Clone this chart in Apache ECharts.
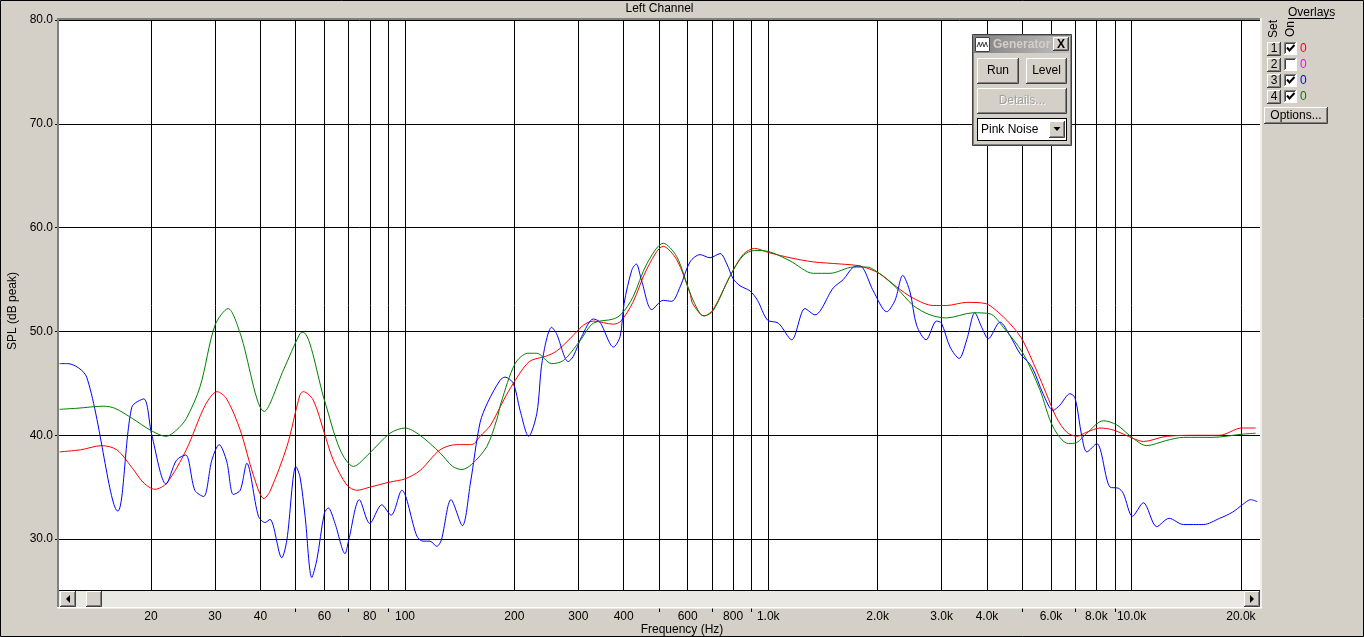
<!DOCTYPE html>
<html><head><meta charset="utf-8">
<script src="https://cdn.jsdelivr.net/npm/echarts@6/dist/echarts.min.js"></script>
<style>html,body{margin:0;padding:0;background:#D4D0C8;overflow:hidden}#c{width:1364px;height:637px}</style>
</head><body><div id="c"></div>
<script>
// ---- data ----
const gridFreqs = [20,30,40,50,60,70,80,90,100,200,300,400,500,600,700,800,900,1000,2000,3000,4000,5000,6000,7000,8000,9000,10000,20000];
const labelFreqs = [20,30,40,60,80,100,200,300,400,600,800,1000,2000,3000,4000,6000,8000,10000,20000];
const minorTickFreqs = [50,70,90,500,700,900,5000,7000,9000];
const yTicks = [30,40,50,60,70,80];

const redFreq = [11.2,12.8,14.6,16.1,17.8,19.1,20.5,22.1,25.0,28.2,30.4,32.3,35.2,38.3,40.9,42.5,47.3,51.4,52.5,55.9,60.0,63.5,69.2,73.7,80.0,91.0,100,110,124.9,138.8,150.2,155.1,160.9,171.5,187,198.7,219.9,243.8,261.2,284.6,309.8,330,375,393,424,463,514,560,609,619,666,705,784,852,917,1002,1148,1330,1576,1788,2020,2254,2507,2846,3094,3518,3950,4344,4722,5025,5483,5826,6211,6630,7066,7530,8189,8914,10100,10780,12480,15420,17480,20100,21960];
const redDb = [38.4,38.6,39.0,38.6,36.8,35.4,34.8,35.4,38.6,42.9,44.2,43.5,40.5,36.1,33.9,34.6,38.9,43.9,44.2,43.4,40.2,37.6,35.2,34.7,35.0,35.5,35.8,36.6,38.6,39.1,39.1,39.2,39.9,40.9,43.4,45.0,47.1,47.6,48.1,49.3,50.6,51.0,50.7,51.0,52.8,56.0,58.2,56.9,53.7,52.7,51.5,52.1,55.3,57.4,58.0,57.6,57.1,56.7,56.5,56.3,55.6,54.3,53.2,52.5,52.5,52.8,52.7,51.7,50.4,49.1,46.2,44.0,41.7,40.3,39.9,40.3,40.7,40.5,39.7,39.4,39.9,40.0,40.0,40.7,40.7];

const blueFreq = [11.2,11.8,13.3,16.2,17.7,19.1,20.1,22.0,23.5,24.9,26.4,27.9,29.4,30.8,32.3,33.7,35.2,36.7,39.5,41.2,42.5,45.8,47.3,50.1,51.4,53.1,55.4,57.2,60.0,61.5,64.2,68.4,70.0,74.9,80.0,86.3,91.6,98.0,107.8,112.2,117.2,122.3,125.9,133.9,143.9,151.4,160.9,169.1,182.7,188.4,198.7,207.4,219.0,230.6,238.8,253.4,261.2,281.5,290.6,306.5,330,344,375,391,401,421,433,448,478,514,542,572,609,649,691,737,769,800,836,891,934,995,1066,1160,1262,1344,1510,1609,1714,1788,1946,2118,2233,2345,2456,2560,2719,2906,2997,3165,3353,3518,3703,3868,4033,4344,4626,4926,5313,5706,6080,6347,6767,6990,7295,7530,8020,8730,9196,9490,10060,10780,11730,12690,13890,15750,17480,18980,20180,21280,22190];
const blueDb = [46.9,46.9,45.6,32.7,42.7,43.5,40.0,35.3,37.6,38.1,34.7,34.1,37.6,39.1,37.5,34.3,34.7,37.3,32.2,31.6,31.9,28.2,29.9,37.0,36.0,32.2,26.3,28.0,32.5,33.0,31.5,28.6,29.9,33.8,31.5,33.3,32.3,34.7,30.3,29.8,29.8,29.3,29.9,33.8,31.3,35.4,41.2,43.2,45.3,45.6,45.0,42.4,39.9,42.1,47.2,50.4,49.8,47.1,47.6,49.5,51.2,50.9,48.5,49.5,52.7,55.9,56.5,54.9,52.1,53.0,52.9,54.3,56.7,57.4,57.1,57.5,56.5,55.1,54.4,53.9,53.0,51.1,50.8,49.2,52.2,51.6,54.2,55.0,56.2,56.3,53.9,51.9,53.0,55.4,53.8,50.6,49.2,51.0,50.8,48.5,47.4,49.2,51.8,50.4,49.3,50.9,49.6,47.9,46.6,44.0,42.4,42.9,44.0,43.6,39.9,38.4,39.2,35.0,34.9,34.4,32.2,33.5,31.2,32.0,31.4,31.4,32.0,32.6,33.3,33.8,33.6];

const greenFreq = [11.2,12.5,14.8,15.9,17.8,19.9,22.0,23.5,25.0,27.3,30.0,32.6,35.2,41.0,46.3,51.4,52.5,60.0,66.3,72.1,80,91,100,110,124.9,135.3,143.5,152.6,167.9,178.9,184.1,201,217.8,230.6,253.4,272.9,303.2,330,375,395,424,463,514,560,609,649,666,705,784,852,917,1002,1148,1330,1479,1714,1868,2020,2254,2507,2787,3094,3665,4076,4435,5025,5590,6080,6697,7066,7530,8363,9104,10100,11000,12480,13890,16760,20100,21960];
const greenDb = [42.5,42.6,42.8,42.6,41.6,40.5,39.9,40.5,41.6,44.7,50.6,52.2,49.8,42.3,46.3,49.8,49.9,43.4,38.6,37.0,38.3,40.2,40.7,40.0,38.3,37.0,36.7,37.2,38.9,41.5,43.2,46.9,47.9,47.9,46.9,47.2,49.1,50.8,51.2,51.7,53.3,56.5,58.5,57.2,53.7,51.7,51.5,52.0,55.3,57.3,57.8,57.7,56.8,55.6,55.6,56.2,56.2,55.6,54.2,52.5,51.6,51.3,51.8,51.7,50.4,47.9,44.4,40.8,39.2,39.3,40.2,41.4,41.0,39.7,39.0,39.5,39.8,39.8,40.1,40.2];

const overlaySets = ['1','2','3','4'];
const overlayOn = [true,false,true,true];
const overlayColors = ['#FF0000','#FF00FF','#0000FF','#008000'];

// ---- helpers ----
const FONT = '12px "Liberation Sans", Arial, sans-serif';
const zip = (a,b) => a.map((v,i)=>[v,b[i]]);
const fmtFreq = v => v >= 1000 ? (v/1000).toFixed(1)+'k' : String(Math.round(v));
const Z = 100;
function txt(text, x, y, opt) {
  opt = opt || {};
  return {type:'text', z:Z+5, x:x, y:y, rotation: opt.rot || 0,
    style:{text:text, x:0, y:0, fill: opt.fill || '#000', font: opt.font || FONT,
      align: opt.align || 'left', verticalAlign:'middle', textAlign: opt.align || 'left', textVerticalAlign:'middle'}};
}
function rect(x,y,w,h,fill,z){ return {type:'rect', z:(z||Z), shape:{x:x,y:y,width:w,height:h}, style:{fill:fill}}; }
function pl(points, stroke, lw, z){ return {type:'polyline', z:(z||Z+1), shape:{points:points}, style:{stroke:stroke, lineWidth:lw||1, fill:null}}; }
function raised(x,y,w,h){
  return [rect(x,y,w,h,'#D4D0C8',Z+1),
    pl([[x+0.5,y+h-1],[x+0.5,y+0.5],[x+w-1,y+0.5]],'#FFFFFF',1,Z+2),
    pl([[x,y+h-0.5],[x+w-0.5,y+h-0.5],[x+w-0.5,y]],'#404040',1,Z+2),
    pl([[x+1,y+h-1.5],[x+w-1.5,y+h-1.5],[x+w-1.5,y+1]],'#808080',1,Z+2)];
}
function sunken(x,y,w,h,fill){
  return [rect(x,y,w,h,fill||'#FFFFFF',Z+1),
    pl([[x+0.5,y+h-1],[x+0.5,y+0.5],[x+w-1,y+0.5]],'#808080',1,Z+2),
    pl([[x,y+h-0.5],[x+w-0.5,y+h-0.5],[x+w-0.5,y]],'#FFFFFF',1,Z+2),
    pl([[x+1.5,y+h-2],[x+1.5,y+1.5],[x+w-2,y+1.5]],'#404040',1,Z+2)];
}
function tri(points){ return {type:'polygon', z:Z+4, shape:{points:points}, style:{fill:'#000'}}; }

const G = [];
// outer image border
G.push({type:'rect', z:Z+10, shape:{x:0.5,y:0.5,width:1363,height:636}, style:{fill:null, stroke:'#000', lineWidth:1}});
// scrollbar
G.push(rect(59,590,1201,17,'#EAE8E3'));
G.push(rect(59,590,1201,1,'#000000',Z+1));
G.push(...raised(60,591,16,16));
G.push(tri([[66,599],[70,595],[70,603]]));
G.push(...raised(86,591,16,16));
G.push(...raised(1244,591,16,16));
G.push(tri([[1254,599],[1250,595],[1250,603]]));
// plot frame (sunken)
G.push(rect(57,18,2,590,'#808080',Z+3));
G.push(rect(57,18,1205,2,'#808080',Z+3));
G.push(rect(1260,18,2,590,'#EFEFEF',Z+3));
G.push(rect(57,607,1205,1.5,'#FFFFFF',Z+3));
// axis names
G.push(txt('SPL (dB peak)', 13, 311, {rot:Math.PI/2, align:'center'}));
G.push(txt('Frequency (Hz)', 682, 630, {align:'center'}));
G.push(txt('Left Channel', 659.5, 9, {align:'center'}));

// Generator window
G.push(rect(972,34,100,112,'#D4D0C8',Z));
G.push({type:'rect', z:Z+1, shape:{x:972.5,y:34.5,width:99,height:111}, style:{fill:null, stroke:'#404040', lineWidth:1}});
G.push({type:'rect', z:Z+1, shape:{x:973.5,y:35.5,width:97,height:109}, style:{fill:null, stroke:'#808080', lineWidth:1}});
G.push({type:'rect', z:Z+1, shape:{x:974,y:36,width:95,height:17},
  style:{fill:{type:'linear',x:0,y:0,x2:1,y2:0,colorStops:[{offset:0,color:'#808080'},{offset:1,color:'#C0C0C0'}]}}});
G.push(rect(975,37,15,15,'#FFFFFF',Z+2));
G.push({type:'rect', z:Z+3, shape:{x:975.5,y:37.5,width:14,height:14}, style:{fill:null, stroke:'#404040', lineWidth:1}});
G.push(pl([[977,47],[979,42],[980.5,47],[982.5,42],[984,47],[986,42],[987.5,47]],'#404040',1,Z+4));
G.push(txt('Generator', 993, 44.5, {fill:'#D4D0C8', font:'bold 12px "Liberation Sans", Arial, sans-serif'}));
G.push(...raised(1053,37,16,14));
G.push(txt('X', 1061, 44.5, {align:'center', font:'bold 12px "Liberation Sans", Arial, sans-serif'}));
G.push(...raised(977,58,42,26));
G.push(txt('Run', 998, 71, {align:'center'}));
G.push(...raised(1026,58,41,26));
G.push(txt('Level', 1046.5, 71, {align:'center'}));
G.push(...raised(977,88,90,26));
G.push(txt('Details...', 1023, 102, {align:'center', fill:'#FFFFFF'}));
G.push(txt('Details...', 1022, 101, {align:'center', fill:'#A0A0A0'}));
G.push(rect(977,118,90,23,'#000000',Z+1));
G.push(rect(978,119,88,21,'#FFFFFF',Z+2));
G.push(txt('Pink Noise', 981, 129.5));
G.push(...raised(1049,121,16,17).map(e=>{e.z+=2;return e;}));
G.push(tri([[1053.5,127],[1060.5,127],[1057,131]]));

// Overlays panel
G.push(txt('Overlays', 1288, 13));
G.push(rect(1288,18,46,1,'#000000',Z+4));
G.push(txt('Set', 1274, 29, {rot:Math.PI/2, align:'center'}));
G.push(txt('On', 1291, 29, {rot:Math.PI/2, align:'center'}));
overlaySets.forEach((s,i)=>{
  const cy = 48 + i*16;
  G.push(...raised(1267, cy-6, 14, 14));
  G.push(txt(s, 1274, cy+1, {align:'center'}));
  G.push(...sunken(1284, cy-6, 13, 13));
  if (overlayOn[i]) G.push(pl([[1287,cy-0.5],[1289.5,cy+2.5],[1294.5,cy-3]],'#000',2,Z+4));
  G.push(txt('0', 1300, cy+1, {fill:overlayColors[i]}));
});
G.push(...raised(1264,107,64,17));
G.push(txt('Options...', 1296, 115.5, {align:'center'}));

const chart = echarts.init(document.getElementById('c'), null, {renderer:'canvas'});
const xMin = 11.16, xMax = 22570;
chart.setOption({
  animation:false,
  backgroundColor:'#D4D0C8',
  grid:{left:59, top:20, width:1201, height:571, show:true, backgroundColor:'#FFFFFF', borderWidth:0},
  xAxis:[{
    type:'log', logBase:10, min:xMin, max:xMax, position:'bottom', offset:17,
    axisLine:{show:false},
    axisTick:{show:false, customValues:gridFreqs},
    minorTick:{show:false}, minorSplitLine:{show:false},
    splitLine:{show:true, lineStyle:{color:'#000000', width:1, type:'solid'}},
    axisLabel:{customValues:labelFreqs, formatter:fmtFreq, margin:3, color:'#000', fontSize:12, fontFamily:'"Liberation Sans", Arial, sans-serif', hideOverlap:false}
  },{
    type:'log', logBase:10, min:xMin, max:xMax, position:'bottom', offset:17,
    axisLine:{show:false}, splitLine:{show:false}, minorTick:{show:false},
    axisTick:{show:true, customValues:minorTickFreqs, length:4, inside:false, lineStyle:{color:'#000', width:1}},
    axisLabel:{show:false}
  }],
  yAxis:{
    type:'value', min:25, max:80,
    axisLine:{show:false},
    axisTick:{show:true, customValues:yTicks, length:4, inside:false, lineStyle:{color:'#000'}},
    splitLine:{show:true, lineStyle:{color:'#000000', width:1, type:'solid'}},
    axisLabel:{customValues:yTicks, formatter:v=>Number(v).toFixed(1), margin:6, color:'#000', fontSize:12, fontFamily:'"Liberation Sans", Arial, sans-serif'}
  },
  series:[
    {name:'1', type:'line', xAxisIndex:0, data:zip(redFreq, redDb), showSymbol:false, symbol:'none', smooth:0.3, color:'#FF0000', lineStyle:{color:'#FF0000', width:1}, z:3},
    {name:'3', type:'line', xAxisIndex:0, data:zip(blueFreq, blueDb), showSymbol:false, symbol:'none', smooth:0.3, color:'#0000FF', lineStyle:{color:'#0000FF', width:1}, z:4},
    {name:'4', type:'line', xAxisIndex:0, data:zip(greenFreq, greenDb), showSymbol:false, symbol:'none', smooth:0.3, color:'#008000', lineStyle:{color:'#008000', width:1}, z:5}
  ],
  graphic:{elements:G}
});
</script>
</body></html>
